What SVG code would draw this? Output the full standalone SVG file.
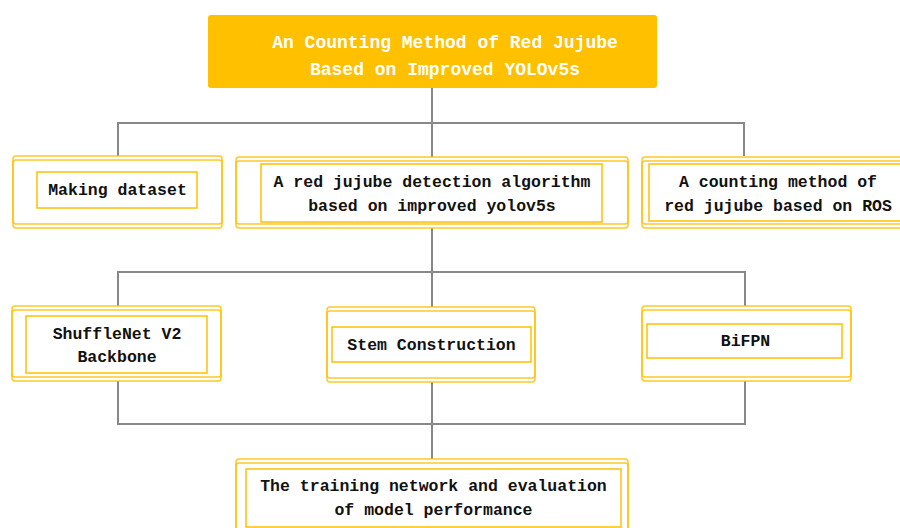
<svg xmlns="http://www.w3.org/2000/svg" width="900" height="528" viewBox="0 0 900 528">
<style>
.o{fill:none;stroke:#FFC000;stroke-width:1.5;opacity:0.85}
.i{fill:none;stroke:#FFC000;stroke-width:1.5}
.t{font-family:"Liberation Mono","DejaVu Sans Mono",monospace;font-weight:bold;font-size:16.5px;fill:#111;text-anchor:middle;dominant-baseline:central}
.h{font-family:"Liberation Mono","DejaVu Sans Mono",monospace;font-weight:bold;font-size:18px;fill:#fff;text-anchor:middle;dominant-baseline:central}
.c{fill:none;stroke:#888;stroke-width:2}
</style>
<rect width="900" height="528" fill="#fff"/>
<g id="connectors">
<path class="c" d="M432,88V123M118,156V123H744V156M432,123V157"/>
<path class="c" d="M432,228V272M118,306V272H745V306M432,272V307"/>
<path class="c" d="M118,381V424H745V381M432,382V459"/>
</g>
<g id="title">
<rect x="208" y="15" width="449" height="73" rx="3" fill="#FFC000"/>
<text class="h" x="445" y="43">An Counting Method of Red Jujube</text>
<text class="h" x="445" y="70">Based on Improved YOLOv5s</text>
</g>
<g id="making-dataset">
<rect class="o" x="13" y="156" width="209" height="68" rx="3"/>
<rect class="o" x="13" y="160" width="209" height="68" rx="3"/>
<rect class="i" x="37" y="172" width="160" height="36"/>
<text class="t" x="117.5" y="190">Making dataset</text>
</g>
<g id="detection-algorithm">
<rect class="o" x="236" y="157" width="392" height="67" rx="3"/>
<rect class="o" x="236" y="161" width="392" height="67" rx="3"/>
<rect class="i" x="261" y="164" width="341" height="58"/>
<text class="t" x="432" y="182">A red jujube detection algorithm</text>
<text class="t" x="432" y="206">based on improved yolov5s</text>
</g>
<g id="counting-ros">
<rect class="o" x="642" y="157" width="272" height="67" rx="3"/>
<rect class="o" x="642" y="161" width="272" height="67" rx="3"/>
<rect class="i" x="649" y="164" width="258" height="57"/>
<text class="t" x="778" y="182">A counting method of</text>
<text class="t" x="778" y="206">red jujube based on ROS</text>
</g>
<g id="shufflenet">
<rect class="o" x="12" y="306" width="209" height="71" rx="3"/>
<rect class="o" x="12" y="310" width="209" height="71" rx="3"/>
<rect class="i" x="26" y="316" width="181" height="57"/>
<text class="t" x="117" y="334">ShuffleNet V2</text>
<text class="t" x="117" y="357">Backbone</text>
</g>
<g id="stem">
<rect class="o" x="327" y="307" width="208" height="71" rx="3"/>
<rect class="o" x="327" y="311" width="208" height="71" rx="3"/>
<rect class="i" x="332" y="327" width="199" height="35"/>
<text class="t" x="431.5" y="345">Stem Construction</text>
</g>
<g id="bifpn">
<rect class="o" x="642" y="306" width="209" height="71" rx="3"/>
<rect class="o" x="642" y="310" width="209" height="71" rx="3"/>
<rect class="i" x="647" y="324" width="195" height="34"/>
<text class="t" x="745.5" y="341">BiFPN</text>
</g>
<g id="training">
<rect class="o" x="236" y="459" width="392" height="72" rx="3"/>
<rect class="o" x="236" y="463" width="392" height="72" rx="3"/>
<rect class="i" x="246" y="469" width="375" height="58"/>
<text class="t" x="433.5" y="486">The training network and evaluation</text>
<text class="t" x="433.5" y="510">of model performance</text>
</g>
</svg>
